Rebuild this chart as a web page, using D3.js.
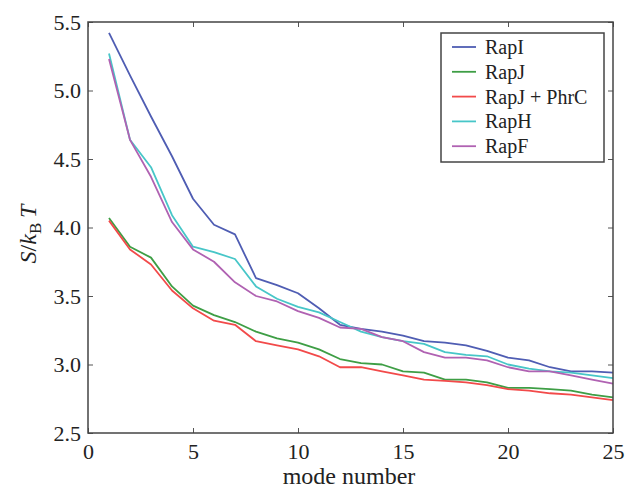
<!DOCTYPE html>
<html><head><meta charset="utf-8">
<script src="https://cdn.jsdelivr.net/npm/d3@7"></script>
<style>body{margin:0;background:#fff}svg{display:block}</style>
</head><body><svg id="c" width="625" height="490"></svg>
<script>
const modes = d3.range(1, 26);
const seriesNames = ["RapI", "RapJ", "RapJ + PhrC", "RapH", "RapF"];
const rapI  = [5.42,5.11,4.81,4.52,4.21,4.02,3.95,3.63,3.58,3.52,3.41,3.29,3.26,3.24,3.21,3.17,3.16,3.14,3.10,3.05,3.03,2.98,2.95,2.95,2.94];
const rapJ  = [4.07,3.86,3.78,3.57,3.43,3.36,3.31,3.24,3.19,3.16,3.11,3.04,3.01,3.00,2.95,2.94,2.89,2.89,2.87,2.83,2.83,2.82,2.81,2.78,2.76];
const rapJP = [4.05,3.84,3.73,3.54,3.41,3.32,3.29,3.17,3.14,3.11,3.06,2.98,2.98,2.95,2.92,2.89,2.88,2.87,2.85,2.82,2.81,2.79,2.78,2.76,2.74];
const rapH  = [5.27,4.64,4.44,4.09,3.86,3.82,3.77,3.57,3.48,3.42,3.38,3.31,3.24,3.20,3.17,3.15,3.09,3.07,3.06,3.00,2.97,2.95,2.94,2.92,2.90];
const rapF  = [5.23,4.64,4.37,4.04,3.84,3.75,3.60,3.50,3.46,3.39,3.34,3.27,3.26,3.20,3.17,3.09,3.05,3.05,3.03,2.98,2.95,2.95,2.92,2.89,2.86];
const colors = ["#4f5db3","#3e9e45","#f24a4a","#47c6c8","#b062b2"];
const xTicks = [0,5,10,15,20,25];
const yTicks = [2.5,3.0,3.5,4.0,4.5,5.0,5.5];

const FONT = '"Liberation Serif","Times New Roman",serif';
const allSeries = [rapI, rapJ, rapJP, rapH, rapF];
const svg = d3.select("#c");
const L = 88, R = 613, T = 22, B = 433;
const x = d3.scaleLinear().domain([0,25]).range([L,R]);
const y = d3.scaleLinear().domain([2.5,5.5]).range([B,T]);

const line = d3.line().x((d,i)=>x(modes[i])).y(d=>y(d));
const g = svg.append("g");
allSeries.forEach((s,k)=>{
  g.append("path").datum(s).attr("d", line).attr("fill","none")
   .attr("stroke", colors[k]).attr("stroke-width",1.8).attr("stroke-linejoin","round");
});

function styleAxis(sel){
  sel.select(".domain").remove();
  sel.selectAll(".tick line").attr("stroke","#555").attr("stroke-width",1);
  sel.selectAll(".tick text").style("font-size","22px").style("font-family",FONT).style("fill","#222");
}
const fmt = d3.format(".1f");
svg.append("g").attr("transform",`translate(0,${B})`)
  .call(d3.axisBottom(x).tickValues(xTicks).tickSize(-5).tickPadding(10).tickFormat(d3.format("d")))
  .call(styleAxis);
svg.append("g").attr("transform",`translate(0,${T})`)
  .call(d3.axisTop(x).tickValues(xTicks).tickSize(-5).tickFormat(""))
  .call(styleAxis);
svg.append("g").attr("transform",`translate(${L},0)`)
  .call(d3.axisLeft(y).tickValues(yTicks).tickSize(-5).tickPadding(7).tickFormat(fmt))
  .call(styleAxis);
svg.append("g").attr("transform",`translate(${R},0)`)
  .call(d3.axisRight(y).tickValues(yTicks).tickSize(-5).tickFormat(""))
  .call(styleAxis);

svg.append("rect").attr("x",L).attr("y",T).attr("width",R-L).attr("height",B-T)
  .attr("fill","none").attr("stroke","#444").attr("stroke-width",1.5);

svg.append("text").attr("x",349).attr("y",484).attr("text-anchor","middle")
  .style("font-family",FONT).style("font-size","24px").style("fill","#222").text("mode number");

const yl = svg.append("text").attr("transform",`translate(36,234) rotate(-90)`)
  .attr("text-anchor","middle").style("font-family",FONT).style("font-size","24px").style("fill","#222");
yl.append("tspan").style("font-style","italic").text("S");
yl.append("tspan").text("/");
yl.append("tspan").style("font-style","italic").text("k");
yl.append("tspan").style("font-size","17px").attr("dy",5).text("B");
yl.append("tspan").attr("dy",-5).text("\u2009");
yl.append("tspan").style("font-style","italic").text("T");

const lg = svg.append("g");
lg.append("rect").attr("x",441).attr("y",33).attr("width",163).attr("height",129)
  .attr("fill","#fff").attr("stroke","#444").attr("stroke-width",1.5);
seriesNames.forEach((n,k)=>{
  const yy = 47 + k*24.8;
  lg.append("line").attr("x1",452).attr("x2",476).attr("y1",yy).attr("y2",yy)
    .attr("stroke",colors[k]).attr("stroke-width",1.8);
  lg.append("text").attr("x",485).attr("y",yy+7).style("font-family",FONT).style("font-size","20px").style("fill","#222").text(n);
});
</script></body></html>
